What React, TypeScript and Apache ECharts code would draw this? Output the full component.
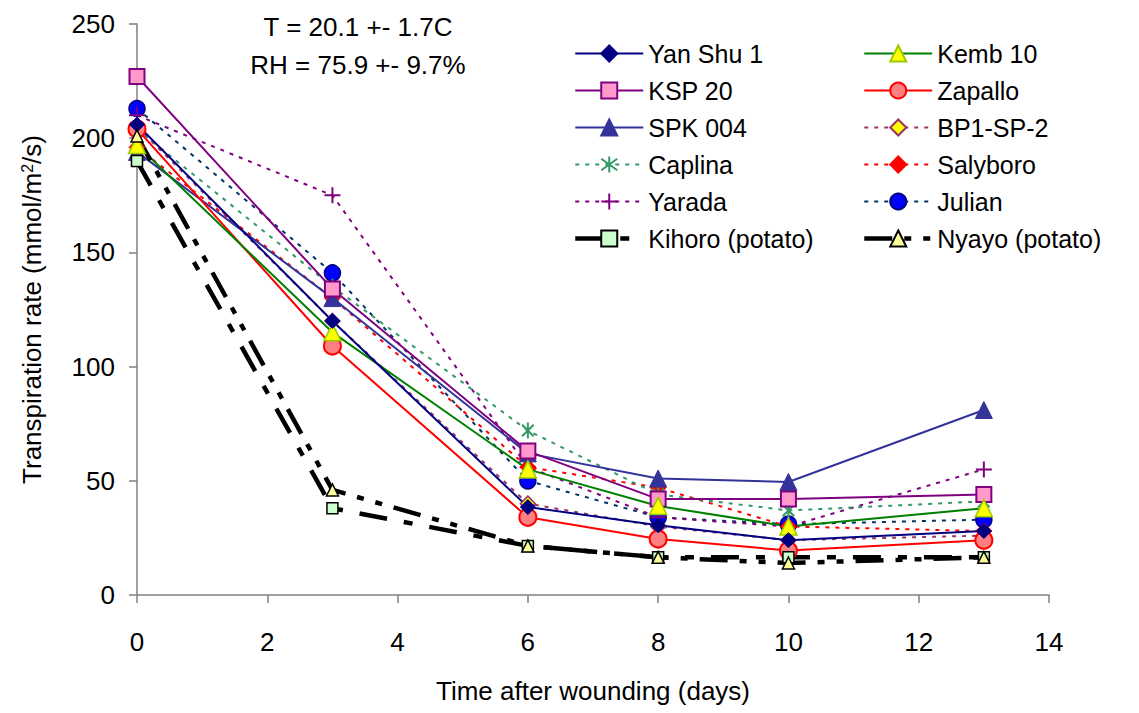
import React, { useEffect, useRef } from "react";
import * as echarts from "echarts";

const days = [0, 3, 6, 8, 10, 13];
const xTicks = [0, 2, 4, 6, 8, 10, 12, 14];
const yTicks = [0, 50, 100, 150, 200, 250];

const yanShu1 = [206, 120, 38.5, 30.5, 24, 28];
const kemb10 = [197, 115, 55, 39, 30, 38];
const ksp20 = [227, 134, 63, 42, 42, 44];
const zapallo = [204, 109, 34, 24.5, 19.5, 24];
const spk004 = [194, 130, 62, 51, 49.5, 81];
const bp1sp2 = [205, 120, 40, 30, 24, 26];
const caplina = [204, 135, 72, 44, 37, 41];
const salyboro = [196, 130, 56, 47, 30, 28];
const yarada = [210, 175, 56, 34, 30, 55];
const julian = [213, 141, 50, 34, 31, 33];
const kihoro = [190, 38, 21.5, 16.5, 16.5, 16.5];
const nyayo = [201, 46, 21.5, 16.5, 14, 16.5];

const legendLeft = ["Yan Shu 1", "KSP 20", "SPK 004", "Caplina", "Yarada", "Kihoro (potato)"];
const legendRight = ["Kemb 10", "Zapallo", "BP1-SP-2", "Salyboro", "Julian", "Nyayo (potato)"];
const thickNames = ["Kihoro (potato)", "Nyayo (potato)"];

const FONT = "Liberation Sans, Arial, sans-serif";
const ASTERISK = "path://M0,-5L0,5M-3.6,-3.6L3.6,3.6M-3.6,3.6L3.6,-3.6";
const PLUS = "path://M0,-5L0,5M-5,0L5,0";
const DOTS = [4, 6];

function mk(
  name: string,
  values: number[],
  lineColor: string,
  lineType: any,
  lineWidth: number,
  symbol: string,
  symbolSize: number,
  fill: string,
  border: string,
  borderWidth: number
) {
  return {
    name,
    type: "line",
    data: days.map((d, i) => [d, values[i]]),
    symbol,
    symbolSize,
    symbolKeepAspect: true,
    lineStyle: { color: lineColor, type: lineType, width: lineWidth },
    itemStyle: { color: fill, borderColor: border, borderWidth, opacity: 1 },
    emphasis: { disabled: true },
  };
}

function legendItems(names: string[]) {
  return names.map((n) =>
    thickNames.includes(n) ? { name: n, lineStyle: { width: 4.5 } } : { name: n }
  );
}

export default function App() {
  const ref = useRef<HTMLDivElement>(null);
  useEffect(() => {
    const chart = echarts.init(ref.current!, null, { renderer: "svg" });
    const series = [
      mk("Julian", julian, "#003366", DOTS, 2, "circle", 16, "#0000FF", "#000080", 1.5),
      mk("Yarada", yarada, "#800080", DOTS, 2, PLUS, 16, "#800080", "#800080", 2),
      mk("Salyboro", salyboro, "#FF0000", DOTS, 2, "diamond", 16, "#FF0000", "#FF0000", 1),
      mk("Caplina", caplina, "#339966", DOTS, 2, ASTERISK, 16, "#339966", "#339966", 2),
      mk("BP1-SP-2", bp1sp2, "#993366", DOTS, 2, "diamond", 15, "#FFFF00", "#993366", 1.5),
      mk("SPK 004", spk004, "#333399", "solid", 2, "triangle", 17, "#333399", "#333399", 1),
      mk("Zapallo", zapallo, "#FF0000", "solid", 2, "circle", 17, "#FF8080", "#FF0000", 2),
      mk("KSP 20", ksp20, "#800080", "solid", 2, "rect", 15, "#FF99CC", "#800080", 2),
      mk("Kemb 10", kemb10, "#008000", "solid", 2, "triangle", 17, "#FFFF00", "#99CC00", 1.5),
      mk("Yan Shu 1", yanShu1, "#000080", "solid", 2, "diamond", 15, "#000080", "#000080", 1),
      mk("Kihoro (potato)", kihoro, "#000000", [28, 17, 9, 17], 4.5, "rect", 11, "#CCFFCC", "#000000", 1.5),
      mk("Nyayo (potato)", nyayo, "#000000", [28, 12, 7, 12, 7, 12], 4.5, "triangle", 12, "#FFFF99", "#000000", 1.5),
    ];
    const legendCommon = {
      orient: "vertical",
      padding: 0,
      itemWidth: 68,
      itemHeight: 20,
      itemGap: 12,
      selectedMode: false,
      textStyle: { color: "#000", fontSize: 25, fontFamily: FONT, lineHeight: 25, padding: [0, 0, 0, 0] },
    };
    chart.setOption({
      animation: false,
      backgroundColor: "#ffffff",
      textStyle: { fontFamily: FONT },
      grid: { left: 137, right: 90, top: 24, bottom: 118, containLabel: false },
      legend: [
        { ...legendCommon, left: 573, top: 41, data: legendItems(legendLeft) },
        { ...legendCommon, left: 862, top: 41, data: legendItems(legendRight) },
      ],
      graphic: [
        {
          type: "text",
          x: 358,
          y: 27,
          style: { text: "T = 20.1 +- 1.7C", fill: "#000", font: `26px ${FONT}`, textAlign: "center", textVerticalAlign: "middle" },
        },
        {
          type: "text",
          x: 358,
          y: 65,
          style: { text: "RH = 75.9 +- 9.7%", fill: "#000", font: `26px ${FONT}`, textAlign: "center", textVerticalAlign: "middle" },
        },
      ],
      xAxis: {
        type: "value",
        min: xTicks[0],
        max: xTicks[xTicks.length - 1],
        interval: 2,
        name: "Time after wounding (days)",
        nameLocation: "middle",
        nameGap: 83,
        nameTextStyle: { color: "#000", fontSize: 26, fontFamily: FONT },
        axisLine: { show: true, onZero: false, lineStyle: { color: "#808080", width: 1.5 } },
        axisTick: { show: true, inside: false, length: 8, lineStyle: { color: "#808080", width: 1.5 } },
        axisLabel: { color: "#000", fontSize: 26, fontFamily: FONT, margin: 34 },
        splitLine: { show: false },
      },
      yAxis: {
        type: "value",
        min: yTicks[0],
        max: yTicks[yTicks.length - 1],
        interval: 50,
        name: "Transpiration rate (mmol/m{sup|2}/s)",
        nameLocation: "middle",
        nameGap: 92,
        nameRotate: 90,
        nameTextStyle: {
          color: "#000",
          fontSize: 26,
          fontFamily: FONT,
          rich: { sup: { fontSize: 16, verticalAlign: "top", lineHeight: 26, color: "#000", fontFamily: FONT } },
        },
        axisLine: { show: true, lineStyle: { color: "#808080", width: 1.5 } },
        axisTick: { show: true, inside: false, length: 8, lineStyle: { color: "#808080", width: 1.5 } },
        axisLabel: { color: "#000", fontSize: 26, fontFamily: FONT, margin: 22 },
        splitLine: { show: false },
      },
      series,
    });
    return () => chart.dispose();
  }, []);
  return <div ref={ref} style={{ position: "absolute", left: 0, top: 0, width: 1139, height: 713 }} />;
}
